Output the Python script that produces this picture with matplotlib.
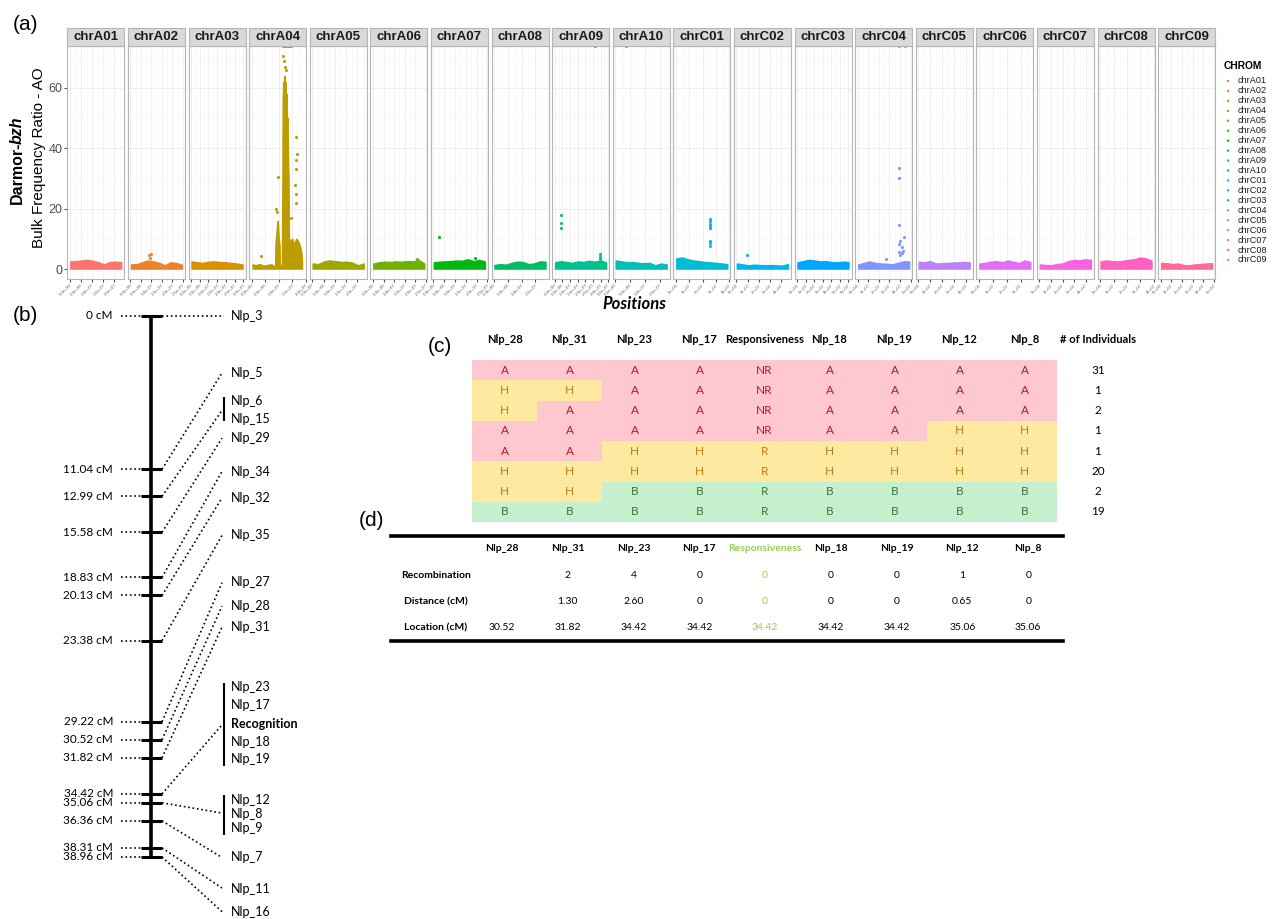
import numpy as np
import matplotlib
matplotlib.use("Agg")
import matplotlib.pyplot as plt
from matplotlib.colors import ListedColormap
from matplotlib.ticker import MultipleLocator, FuncFormatter

W, H = 1278, 919
plt.rcParams["font.family"] = ["Liberation Sans", "DejaVu Sans"]
CAL = ["Lato", "DejaVu Sans"]

# ---------------- (a) bulk frequency ratio per chromosome ----------------
chroms = ["chrA01", "chrA02", "chrA03", "chrA04", "chrA05", "chrA06", "chrA07",
          "chrA08", "chrA09", "chrA10", "chrC01", "chrC02", "chrC03", "chrC04",
          "chrC05", "chrC06", "chrC07", "chrC08", "chrC09"]
chrom_mb = [23.3, 24.8, 29.8, 19.2, 23.1, 24.4, 24.0, 18.9, 33.9, 17.4,
            38.8, 46.2, 60.6, 48.9, 43.1, 37.2, 44.8, 38.5, 48.5]
tick_mb = [5] * 10 + [10] * 9

# upper edge of the dense SNP band along each chromosome
band_top = [
    [2.5, 2.6, 2.8, 3.0, 2.7, 2.2, 1.5, 2.3, 2.4, 2.2],
    [1.5, 1.6, 2.2, 2.8, 2.5, 2.0, 1.2, 2.2, 2.0, 1.4],
    [2.5, 2.2, 2.0, 2.4, 2.5, 2.3, 2.2, 2.0, 1.8, 1.5],
    None,
    [1.8, 1.6, 2.5, 2.8, 2.6, 2.3, 2.4, 2.1, 1.2, 1.8],
    [1.8, 2.2, 2.4, 2.3, 2.5, 2.4, 2.6, 2.5, 3.0, 1.8],
    [2.2, 2.4, 2.5, 2.6, 2.8, 2.7, 3.2, 2.6, 3.0, 2.5],
    [1.3, 1.6, 1.4, 2.0, 2.4, 2.3, 1.6, 1.8, 2.5, 2.4],
    [2.2, 2.6, 2.3, 2.0, 2.5, 2.3, 2.7, 2.4, 2.8, 2.2],
    [2.8, 2.5, 2.2, 2.3, 2.0, 1.9, 2.0, 1.2, 1.8, 1.5],
    [3.5, 3.8, 3.2, 2.8, 2.6, 2.3, 2.2, 2.0, 1.8, 1.6],
    [1.8, 1.5, 1.2, 1.4, 1.3, 1.2, 1.3, 1.2, 1.1, 1.6],
    [2.2, 2.6, 3.0, 2.8, 2.5, 2.6, 2.3, 2.2, 2.4, 2.3],
    [1.5, 2.0, 2.5, 2.0, 1.8, 1.7, 1.5, 2.0, 2.5, 2.5],
    [2.4, 2.2, 2.6, 1.8, 1.9, 2.0, 2.1, 2.2, 2.3, 2.2],
    [1.8, 2.0, 2.4, 2.6, 2.2, 2.8, 2.4, 1.9, 2.8, 2.3],
    [1.5, 1.3, 1.2, 1.6, 1.8, 2.6, 3.0, 2.8, 3.2, 3.0],
    [2.5, 2.8, 2.6, 2.5, 2.7, 3.0, 3.2, 3.8, 3.5, 2.8],
    [2.0, 1.9, 1.6, 1.8, 1.3, 1.2, 1.5, 1.6, 1.8, 1.9],
]

# chrA04 peak profile (fraction of chromosome, band top)
a04_frac = [0.02, 0.08, 0.14, 0.20, 0.26, 0.32, 0.38, 0.41, 0.43, 0.45, 0.455,
            0.46, 0.48, 0.50, 0.52, 0.535, 0.54, 0.56, 0.585, 0.595, 0.60,
            0.61, 0.62, 0.63, 0.64, 0.65, 0.66, 0.67, 0.68, 0.69, 0.70, 0.71,
            0.715, 0.72, 0.74, 0.78, 0.82, 0.86, 0.90, 0.94, 0.96, 0.97]
a04_top = [1.5, 1.2, 1.6, 1.3, 1.1, 1.4, 1.5, 1.2, 0.5, 0.5, 0.5,
           8.0, 12.0, 16.0, 10.0, 8.0, 1.5, 1.2, 1.5, 30.0, 55.0,
           62.0, 60.0, 64.0, 58.0, 62.0, 55.0, 58.0, 48.0, 50.0, 35.0, 30.0,
           12.0, 10.0, 9.0, 10.0, 8.0, 10.0, 9.0, 7.0, 5.0, 2.0]

# isolated SNPs: (fraction of chromosome, ratio)
outliers = {
    "chrA02": [(0.35, 4.5), (0.40, 5.0), (0.38, 3.8)],
    "chrA04": [(0.17, 4.3), (0.47, 20.0), (0.49, 19.0), (0.50, 30.5),
               (0.61, 70.5), (0.62, 69.0), (0.64, 67.0), (0.66, 66.0),
               (0.86, 43.9), (0.87, 38.0), (0.86, 36.0), (0.85, 33.0),
               (0.84, 28.0), (0.86, 25.0), (0.85, 22.0), (0.75, 17.0),
               (0.60, 73.9), (0.62, 73.9), (0.64, 73.9), (0.66, 73.9),
               (0.68, 73.9), (0.70, 73.9), (0.72, 73.9), (0.74, 73.9),
               (0.76, 73.9)],
    "chrA06": [(0.85, 3.3)],
    "chrA07": [(0.10, 10.5), (0.80, 3.8)],
    "chrA09": [(0.12, 17.9), (0.12, 15.2), (0.12, 13.6), (0.88, 5.0),
               (0.88, 4.0), (0.88, 3.2), (0.77, 73.9)],
    "chrA10": [(0.21, 73.9)],
    "chrC01": [(0.65, 16.5), (0.65, 15.8), (0.65, 15.0), (0.65, 14.3),
               (0.65, 13.6), (0.65, 9.3), (0.65, 8.5), (0.65, 7.6)],
    "chrC02": [(0.20, 4.5)],
    "chrC04": [(0.79, 73.9), (0.91, 73.9), (0.79, 33.4), (0.79, 30.1),
               (0.79, 14.5), (0.90, 10.5), (0.82, 9.3), (0.80, 8.2),
               (0.85, 7.2), (0.87, 6.0), (0.80, 5.5), (0.82, 4.5),
               (0.86, 5.2), (0.55, 3.2)],
}


def hue_colours(n, c=100.0, l=65.0):
    # ggplot2 default hue palette (polar Luv -> sRGB)
    out = []
    Xn, Yn, Zn = 95.047, 100.0, 108.883
    un = 4 * Xn / (Xn + 15 * Yn + 3 * Zn)
    vn = 9 * Yn / (Xn + 15 * Yn + 3 * Zn)
    M = np.array([[3.2404542, -1.5371385, -0.4985314],
                  [-0.9692660, 1.8760108, 0.0415560],
                  [0.0556434, -0.2040259, 1.0572252]])
    for h in np.linspace(15, 375, n + 1)[:-1]:
        u, v = c * np.cos(np.deg2rad(h)), c * np.sin(np.deg2rad(h))
        Y = Yn * ((l + 16) / 116) ** 3
        up, vp = u / (13 * l) + un, v / (13 * l) + vn
        X = Y * 9 * up / (4 * vp)
        Z = Y * (12 - 3 * up - 20 * vp) / (4 * vp)
        rgb = np.clip(M @ np.array([X, Y, Z]) / 100, 0, 1)
        rgb = np.where(rgb <= 0.0031308, 12.92 * rgb, 1.055 * rgb ** (1 / 2.4) - 0.055)
        out.append(tuple(np.clip(rgb, 0, 1)))
    return out


cols = hue_colours(len(chroms))
fig = plt.figure(figsize=(W / 100, H / 100), dpi=100)

px0, pitch, pw = 67.3, 60.6, 57.0
for i, ch in enumerate(chroms):
    L = chrom_mb[i] * 1e6
    left = (px0 + i * pitch) / W
    ax = fig.add_axes([left, 1 - 279 / H, pw / W, 233 / H])
    ax.set_xlim(-0.05 * L, 1.05 * L)
    ax.set_ylim(-3.3, 73.9)
    if ch == "chrA04":
        xs, top = np.array(a04_frac) * L, a04_top
    else:
        xs = np.linspace(0.01, 0.99, len(band_top[i])) * L
        top = band_top[i]
    ax.fill_between(xs, 0.2, top, color=cols[i], lw=1.2)
    if ch in outliers:
        f, y = zip(*outliers[ch])
        ax.scatter(np.array(f) * L, y, s=5, color=cols[i], lw=0)
    ax.yaxis.set_major_locator(MultipleLocator(20))
    ax.yaxis.set_minor_locator(MultipleLocator(10))
    ax.xaxis.set_major_locator(MultipleLocator(tick_mb[i] * 1e6))
    ax.xaxis.set_minor_locator(MultipleLocator(tick_mb[i] * 5e5))
    dec = 1 if ch.startswith("chrA") else 0
    ax.xaxis.set_major_formatter(FuncFormatter(lambda v, p, d=dec: f"{v:.{d}e}"))
    ax.grid(True, which="major", color="#EBEBEB", lw=0.6)
    ax.grid(True, which="minor", color="#F5F5F5", lw=0.4)
    ax.set_axisbelow(True)
    for s in ax.spines.values():
        s.set_color("#B5B5B5")
        s.set_linewidth(0.8)
    ax.tick_params(axis="x", which="major", length=2, color="#4D4D4D",
                   labelsize=3.2, labelcolor="#666666", labelrotation=45, pad=1)
    for t in ax.get_xticklabels():
        t.set_ha("right")
        t.set_rotation_mode("anchor")
    ax.tick_params(which="minor", length=0)
    if i == 0:
        ax.tick_params(axis="y", which="major", length=2, color="#4D4D4D",
                       labelsize=9, labelcolor="#4D4D4D", pad=1.5)
    else:
        ax.tick_params(axis="y", which="major", length=0, labelleft=False)
    st = fig.add_axes([left, 1 - 46 / H, pw / W, 18 / H])
    st.set_facecolor("#D9D9D9")
    st.set_xticks([])
    st.set_yticks([])
    for s in st.spines.values():
        s.set_color("#B5B5B5")
        s.set_linewidth(0.8)
    st.text(0.5, 0.5, ch, ha="center", va="center", fontsize=9.5,
            fontweight="bold", color="#1A1A1A", transform=st.transAxes)

fig.text(13 / W, 1 - 25 / H, "(a)", fontsize=15, ha="left", va="center")
fig.text(17 / W, 1 - 141 / H, "Darmor-", rotation=90, rotation_mode="anchor",
         ha="right", va="center", fontsize=11.5, fontweight="bold")
fig.text(17 / W, 1 - 143.5 / H, "bzh", rotation=90, rotation_mode="anchor",
         ha="left", va="center", fontsize=11.5, fontweight="bold", style="italic")
fig.text(39 / W, 1 - 158 / H, "Bulk Frequency Ratio - AO", rotation=90,
         ha="center", va="center", fontsize=11)
fig.text(634 / W, 1 - 304 / H, "Positions", ha="center", va="center",
         fontsize=12, fontweight="bold", style="italic", family=CAL)

# legend
lg = fig.add_axes([1220 / W, 1 - 270 / H, 58 / W, 210 / H])
lg.set_xlim(0, 1)
lg.set_ylim(19.01, -2.11)
lg.axis("off")
lg.text(0.07, -1.5, "CHROM", fontsize=7.4, fontweight="bold", va="center")
lg.scatter([0.14] * len(chroms), range(len(chroms)), s=3, c=cols, lw=0)
for k, ch in enumerate(chroms):
    lg.text(0.31, k, ch, fontsize=6.6, va="center", color="#1A1A1A")

# ---------------- (b) genetic map ----------------
map_cm = [0, 11.04, 12.99, 15.58, 18.83, 20.13, 23.38, 29.22, 30.52, 31.82,
          34.42, 35.06, 36.36, 38.31, 38.96]
# where each dotted connector lands on the marker side (map units)
map_target = [0, 4.1, 6.8, 8.8, 11.2, 13.1, 15.8, 19.2, 20.9, 22.4,
              29.45, 35.8, 39.0, 41.2, 42.9]
marker_names = ["Nlp_3", "Nlp_5", "Nlp_6", "Nlp_15", "Nlp_29", "Nlp_34",
                "Nlp_32", "Nlp_35", "Nlp_27", "Nlp_28", "Nlp_31", "Nlp_23",
                "Nlp_17", "Recognition", "Nlp_18", "Nlp_19", "Nlp_12", "Nlp_8",
                "Nlp_9", "Nlp_7", "Nlp_11", "Nlp_16"]
marker_rows = [0.0, 4.1, 6.1, 7.42, 8.78, 11.23, 13.1, 15.77, 19.16, 20.88,
               22.4, 26.7, 28.0, 29.4, 30.67, 31.9, 34.85, 35.86, 36.87,
               39.0, 41.25, 42.9]
brackets = [(5.83, 7.56), (26.43, 32.41), (34.5, 37.38)]

axb = fig.add_axes([0, 0, 330 / W, 619 / H])
axb.set_xlim(0, 330)
axb.set_ylim(43.43, -1.15)
axb.axis("off")
axb.text(13, 0, "(b)", fontsize=15, ha="left", va="center")
axb.vlines(151, 0, map_cm[-1], color="k", lw=2.6)
axb.hlines(map_cm, 141, 162, color="k", lw=2.2)
axb.hlines(map_cm, 121, 141, color="k", lw=1.2, linestyles=":")
for cm, tgt in zip(map_cm, map_target):
    axb.plot([162, 224 if cm == 0 else 222], [cm, tgt], ls=":", lw=1.2, color="k")
    axb.text(113, cm, f"{cm:g} cM", ha="right", va="center", fontsize=8.5,
             family=CAL)
for name, y in zip(marker_names, marker_rows):
    axb.text(231, y, name, ha="left", va="center", fontsize=9, family=CAL,
             fontweight="bold" if name == "Recognition" else "normal")
for y0, y1 in brackets:
    axb.vlines(224, y0, y1, color="k", lw=1.5)

# ---------------- (c) genotype classes ----------------
markers = ["Nlp_28", "Nlp_31", "Nlp_23", "Nlp_17", "Responsiveness",
           "Nlp_18", "Nlp_19", "Nlp_12", "Nlp_8"]
geno = [
    ["A", "A", "A", "A", "NR", "A", "A", "A", "A"],
    ["H", "H", "A", "A", "NR", "A", "A", "A", "A"],
    ["H", "A", "A", "A", "NR", "A", "A", "A", "A"],
    ["A", "A", "A", "A", "NR", "A", "A", "H", "H"],
    ["A", "A", "H", "H", "R", "H", "H", "H", "H"],
    ["H", "H", "H", "H", "R", "H", "H", "H", "H"],
    ["H", "H", "B", "B", "R", "B", "B", "B", "B"],
    ["B", "B", "B", "B", "R", "B", "B", "B", "B"],
]
n_individuals = [31, 1, 2, 1, 1, 20, 2, 19]

cls = {"A": 0, "NR": 0, "H": 1, "B": 2}
fills = ["#FFC7CE", "#FDE9A0", "#C6EFCE"]
inks = ["#B2182B", "#C07A1A", "#2E7D32"]
codes = np.array([[cls[g] if g != "R" else cls[row[5]] for g in row] for row in geno])

axc = fig.add_axes([472 / W, 1 - 522 / H, 585 / W, 162 / H])
axc.pcolormesh(np.arange(len(markers) + 1), np.arange(len(geno) + 1), codes,
               cmap=ListedColormap(fills), vmin=-0.5, vmax=2.5)
axc.set_xlim(0, len(markers))
axc.set_ylim(len(geno), 0)
axc.axis("off")
for c, m in enumerate(markers):
    axc.text(c + 0.5, -1.0, m, ha="center", va="center", fontsize=8,
             fontweight="bold", family=CAL)
axc.text(9.63, -1.0, "# of Individuals", ha="center", va="center", fontsize=8,
         fontweight="bold", family=CAL)
for r, row in enumerate(geno):
    for c, g in enumerate(row):
        axc.text(c + 0.5, r + 0.5, g, ha="center", va="center", fontsize=8.5,
                 color=inks[codes[r, c]], family=CAL)
    axc.text(9.63, r + 0.5, str(n_individuals[r]), ha="center", va="center",
             fontsize=8.5, family=CAL)
fig.text(440 / W, 1 - 347 / H, "(c)", fontsize=15, ha="center", va="center")

# ---------------- (d) recombination summary ----------------
row_names = ["Recombination", "Distance (cM)", "Location (cM)"]
recombination = ["", "2", "4", "0", "0", "0", "0", "1", "0"]
distance_cm = ["", "1.30", "2.60", "0", "0", "0", "0", "0.65", "0"]
location_cm = ["30.52", "31.82", "34.42", "34.42", "34.42", "34.42", "34.42",
               "35.06", "35.06"]

axd = fig.add_axes([391 / W, 1 - 641 / H, 672 / W, 105 / H])
axd.set_xlim(-0.684, 9.529)
axd.set_ylim(3.498, -0.494)
axd.set_xticks([])
axd.set_yticks([])
for side in ["left", "right"]:
    axd.spines[side].set_visible(False)
for side in ["top", "bottom"]:
    axd.spines[side].set_linewidth(2.6)
green = "#92D050"
for j, m in enumerate(markers, start=1):
    axd.text(j, 0, m, ha="center", va="center", fontsize=7.5,
             fontweight="bold", family=CAL,
             color=green if m == "Responsiveness" else "k")
for i, (name, vals) in enumerate(zip(row_names,
                                     [recombination, distance_cm, location_cm]), start=1):
    axd.text(0, i, name, ha="center", va="center", fontsize=7.5,
             fontweight="bold", family=CAL)
    for j, v in enumerate(vals, start=1):
        axd.text(j, i, v, ha="center", va="center", fontsize=7.5, family=CAL,
                 color=green if markers[j - 1] == "Responsiveness" else "k")
fig.text(371 / W, 1 - 521 / H, "(d)", fontsize=15, ha="center", va="center")

fig.savefig("out.png", dpi=100)
